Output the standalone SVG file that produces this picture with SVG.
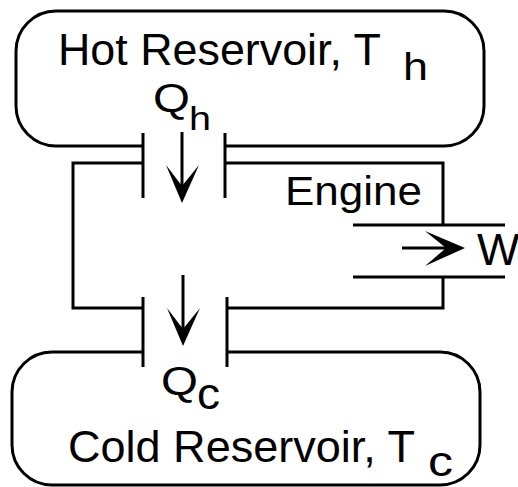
<svg xmlns="http://www.w3.org/2000/svg" width="518" height="487" viewBox="0 0 518 487">
<style>
.ln{fill:none;stroke:#000;stroke-width:3;stroke-linecap:butt;stroke-linejoin:miter}
.t{font-family:"Liberation Sans",Arial,sans-serif;fill:#000}
.hd{fill:#000;stroke:none}
</style>
<rect width="518" height="487" fill="#fff"/>
<g id="hot-reservoir">
<path class="ln" d="M143,146 H56 A40,40 0 0 1 16,106 V51 A40,40 0 0 1 56,11 H444 A40,40 0 0 1 484,51 V106 A40,40 0 0 1 444,146 H225"/>
<text class="t" x="58" y="65" font-size="44" textLength="323" lengthAdjust="spacingAndGlyphs">Hot Reservoir, T</text>
<text class="t" x="403" y="80" font-size="39" textLength="25" lengthAdjust="spacingAndGlyphs">h</text>
</g>
<g id="cold-reservoir">
<path class="ln" d="M143,352 H52 A40,40 0 0 0 12,392 V445 A40,40 0 0 0 52,485 H440 A40,40 0 0 0 480,445 V392 A40,40 0 0 0 440,352 H227"/>
<text class="t" x="68" y="462" font-size="44" textLength="347" lengthAdjust="spacingAndGlyphs">Cold Reservoir, T</text>
<text class="t" x="428" y="476" font-size="42" textLength="25" lengthAdjust="spacingAndGlyphs">c</text>
</g>
<g id="engine">
<path class="ln" d="M143,163 H73 V308 H143"/>
<path class="ln" d="M225,163 H443 V225"/>
<path class="ln" d="M227,308 H443 V277"/>
<path class="ln" d="M353,225 H505 M353,277 H505"/>
<text class="t" x="285" y="205" font-size="40" textLength="137" lengthAdjust="spacingAndGlyphs">Engine</text>
</g>
<g id="connectors">
<path class="ln" d="M143,133 V198 M225,133 V198"/>
<path class="ln" d="M143,297 V367 M227,297 V367"/>
<path class="ln" d="M182,132 V190"/>
<path class="hd" d="M166,165 L182,203 L199,165 L182,186 Z"/>
<path class="ln" d="M183,275 V333"/>
<path class="hd" d="M167,308 L183,346 L200,308 L183,329 Z"/>
<path class="ln" d="M402,248 H452"/>
<path class="hd" d="M425,231 L465,248 L425,266 L446,248 Z"/>
</g>
<g id="labels">
<text class="t" x="153" y="112" font-size="41" textLength="37" lengthAdjust="spacingAndGlyphs">Q</text>
<text class="t" x="189" y="130" font-size="34" textLength="22" lengthAdjust="spacingAndGlyphs">h</text>
<text class="t" x="161" y="395" font-size="41" textLength="37" lengthAdjust="spacingAndGlyphs">Q</text>
<text class="t" x="197" y="409" font-size="44" textLength="23" lengthAdjust="spacingAndGlyphs">c</text>
<text class="t" x="477" y="265" font-size="45">W</text>
</g>
</svg>
